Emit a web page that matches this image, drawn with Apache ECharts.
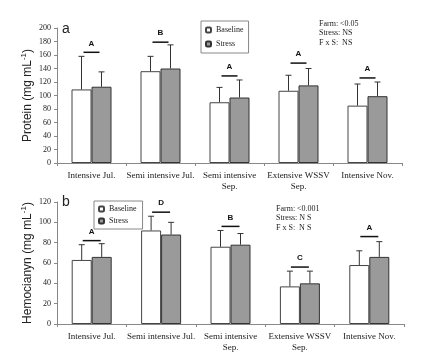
<!DOCTYPE html>
<html><head><meta charset="utf-8">
<script src="https://cdn.jsdelivr.net/npm/echarts@6/dist/echarts.min.js"></script>
<style>html,body{margin:0;padding:0;background:#fff}#c{width:426px;height:357px}</style>
</head><body><div id="c"></div>
<script>
const categories = ['Intensive Jul.', 'Semi intensive Jul.', 'Semi intensive\nSep.', 'Extensive WSSV\nSep.', 'Intensive Nov.'];
// Panel a: Protein
const proteinBaseline = [109, 136, 90, 107, 85];
const proteinBaselineErr = [158, 158, 112, 130, 117];
const proteinStress = [113, 140, 97, 115, 99];
const proteinStressErr = [135, 175, 123, 140, 120];
const proteinSigLetters = ['A', 'B', 'A', 'A', 'A'];
const proteinSigLevel = [164, 179, 129, 148, 126];
const proteinTicks = [0, 20, 40, 60, 80, 100, 120, 140, 160, 180, 200];
// Panel b: Hemocianyn
const hemoBaseline = [63, 92, 76, 37, 58];
const hemoBaselineErr = [78, 106, 92, 52, 72];
const hemoStress = [66, 88, 78, 40, 66];
const hemoStressErr = [79, 100, 89, 52, 81];
const hemoSigLetters = ['A', 'D', 'B', 'C', 'A'];
const hemoSigLevel = [82, 110, 96, 56, 86];
const hemoTicks = [0, 20, 40, 60, 80, 100, 120];

const serif = '"Liberation Serif","Times New Roman",serif';
const sans = '"Liberation Sans",Arial,sans-serif';
const txt = '#222';

function errData(vals, errs, side) {
  return vals.map((v, i) => [i, v, errs[i], side]);
}
function sigData(levels, letters) {
  return levels.map((v, i) => [i, v, letters[i]]);
}
function renderErr(params, api) {
  const i = api.value(0);
  const side = api.value(3);
  const p0 = api.coord([i, api.value(1)]);
  const p1 = api.coord([i, api.value(2)]);
  const x = p0[0] + side * 10;
  const st = { stroke: '#333', lineWidth: 1 };
  return { type: 'group', children: [
    { type: 'line', shape: { x1: x, y1: p0[1], x2: x, y2: p1[1] }, style: st },
    { type: 'line', shape: { x1: x - 3, y1: p1[1], x2: x + 3, y2: p1[1] }, style: st }
  ]};
}
function renderSig(halfW) {
  return function (params, api) {
    const p = api.coord([api.value(0), api.value(1)]);
    return { type: 'group', children: [
      { type: 'line', shape: { x1: p[0] - halfW, y1: p[1], x2: p[0] + halfW, y2: p[1] }, style: { stroke: '#111', lineWidth: 1.5 } },
      { type: 'text', x: p[0], y: p[1] - 5, style: { text: api.value(2), fill: '#111', font: 'bold 8px ' + sans, align: 'center', verticalAlign: 'bottom' } }
    ]};
  };
}
function xAx(gi) {
  return {
    type: 'category', gridIndex: gi, data: categories,
    axisLine: { lineStyle: { color: '#888' } },
    axisTick: { show: true, length: 3, lineStyle: { color: '#888' } },
    axisLabel: { color: txt, fontFamily: serif, fontSize: 9, margin: 7, interval: 0, lineHeight: 11 }
  };
}
function yAx(gi, ticks, nameTxt, gap) {
  return {
    type: 'value', gridIndex: gi, min: ticks[0], max: ticks[ticks.length - 1], interval: ticks[1] - ticks[0],
    splitLine: { show: false },
    axisLine: { show: true, lineStyle: { color: '#888' } },
    axisTick: { show: true, length: 3, lineStyle: { color: '#888' } },
    axisLabel: { color: txt, fontFamily: serif, fontSize: 8, margin: 6 },
    name: nameTxt, nameLocation: 'middle', nameRotate: 90, nameGap: gap, nameMoveOverlap: false,
    nameTextStyle: { color: txt, fontFamily: sans, fontSize: 12,
      rich: { sup: { fontSize: 8, fontFamily: sans, color: txt, verticalAlign: 'top', padding: [0, 0, 7, 0] } } }
  };
}
const barBase = { type: 'bar', barWidth: 20, barGap: '0%' };
const baseStyle = { color: '#fff', borderColor: '#444', borderWidth: 1 };
const stressStyle = { color: '#9a9a9a', borderColor: '#333', borderWidth: 1 };

const chart = echarts.init(document.getElementById('c'), null, { renderer: 'canvas' });
chart.setOption({
  animation: false,
  backgroundColor: '#fff',
  grid: [
    { left: 57, right: 24, top: 28, bottom: 194 },
    { left: 57, right: 22, top: 202, bottom: 33 }
  ],
  xAxis: [xAx(0), xAx(1)],
  yAxis: [
    yAx(0, proteinTicks, 'Protein (mg mL{sup|-1})', 22),
    yAx(1, hemoTicks, 'Hemocianyn (mg mL{sup|-1})', 22)
  ],
  legend: [
    { orient: 'vertical', left: 201, top: 21, data: ['Baseline', 'Stress'], itemWidth: 5, itemHeight: 5, itemGap: 6,
      padding: [5, 5, 5, 4], borderColor: '#888', borderWidth: 1, textStyle: { color: txt, fontFamily: serif, fontSize: 8 } },
    { orient: 'vertical', left: 94, top: 201, data: ['Baseline', 'Stress'], itemWidth: 5, itemHeight: 5, itemGap: 4,
      padding: [4, 6, 4, 4], borderColor: '#888', borderWidth: 1, textStyle: { color: txt, fontFamily: serif, fontSize: 8 } }
  ],
  graphic: [
    { type: 'text', left: 62, top: 22, style: { text: 'a', font: '14px ' + sans, fill: txt } },
    { type: 'text', left: 62, top: 195, style: { text: 'b', font: '14px ' + sans, fill: txt } },
    { type: 'text', left: 319, top: 19, style: { text: 'Farm: <0.05\nStress: NS\nF x S:  NS', font: '8px ' + serif, lineHeight: 9.5, fill: txt } },
    { type: 'text', left: 276, top: 204, style: { text: 'Farm: <0.001\nStress: N S\nF x S:  N S', font: '8px ' + serif, lineHeight: 9.5, fill: txt } }
  ],
  series: [
    Object.assign({ name: 'Baseline', xAxisIndex: 0, yAxisIndex: 0, data: proteinBaseline, itemStyle: baseStyle }, barBase),
    Object.assign({ name: 'Stress', xAxisIndex: 0, yAxisIndex: 0, data: proteinStress, itemStyle: stressStyle }, barBase),
    Object.assign({ name: 'Baseline', xAxisIndex: 1, yAxisIndex: 1, data: hemoBaseline, itemStyle: baseStyle }, barBase),
    Object.assign({ name: 'Stress', xAxisIndex: 1, yAxisIndex: 1, data: hemoStress, itemStyle: stressStyle }, barBase),
    { type: 'custom', xAxisIndex: 0, yAxisIndex: 0, renderItem: renderErr, data: errData(proteinBaseline, proteinBaselineErr, -1), z: 5 },
    { type: 'custom', xAxisIndex: 0, yAxisIndex: 0, renderItem: renderErr, data: errData(proteinStress, proteinStressErr, 1), z: 5 },
    { type: 'custom', xAxisIndex: 1, yAxisIndex: 1, renderItem: renderErr, data: errData(hemoBaseline, hemoBaselineErr, -1), z: 5 },
    { type: 'custom', xAxisIndex: 1, yAxisIndex: 1, renderItem: renderErr, data: errData(hemoStress, hemoStressErr, 1), z: 5 },
    { type: 'custom', xAxisIndex: 0, yAxisIndex: 0, renderItem: renderSig(8), data: sigData(proteinSigLevel, proteinSigLetters), z: 5 },
    { type: 'custom', xAxisIndex: 1, yAxisIndex: 1, renderItem: renderSig(9), data: sigData(hemoSigLevel, hemoSigLetters), z: 5 }
  ]
});
</script></body></html>
